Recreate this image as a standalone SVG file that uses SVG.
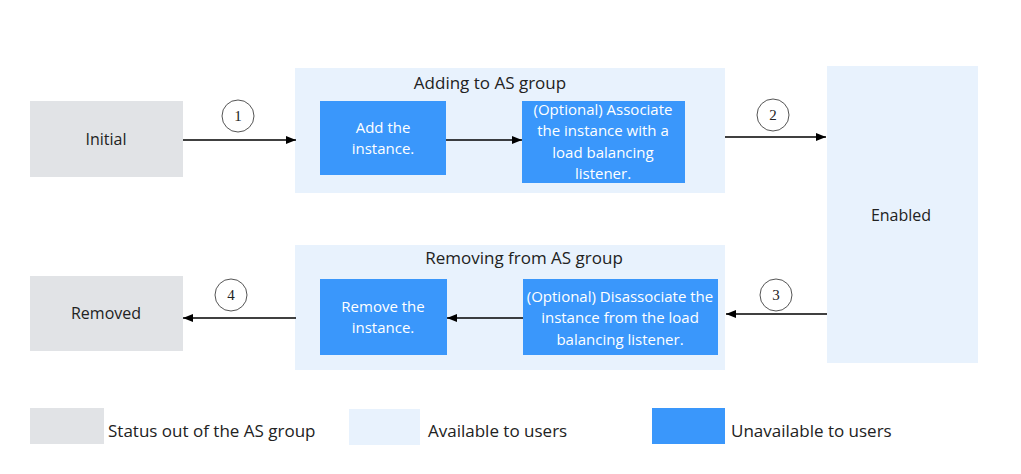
<svg xmlns="http://www.w3.org/2000/svg" width="1021" height="474" viewBox="0 0 1021 474">
<style>
text{font-family:"Open Sans","Noto Sans","Liberation Sans",sans-serif}
.status{fill:#e1e3e6}
.avail{fill:#e8f2fd}
.unav{fill:#3a97fb}
.dark{fill:#222;font-size:16px;text-anchor:middle}
.title{fill:#222;font-size:17px;text-anchor:middle}
.white{fill:#fff;font-size:15px;text-anchor:middle}
.leg{fill:#222;font-size:17px}
.num{fill:#222;font-size:15px;text-anchor:middle;font-family:"Liberation Serif",serif}
.circ{fill:#fff;stroke:#555;stroke-width:1}
.conn{stroke:#000;stroke-width:1.3;fill:none;marker-end:url(#ah)}
</style>
<defs>
<marker id="ah" viewBox="0 0 10 8" refX="10" refY="4" markerWidth="10" markerHeight="8" markerUnits="userSpaceOnUse" orient="auto">
<path d="M0,0 L10,4 L0,8 Z" fill="#000"/>
</marker>
</defs>
<rect width="1021" height="474" fill="#fff"/>
<g id="initial">
<rect class="status" x="30" y="101" width="153" height="76"/>
<text class="dark" x="106" y="145">Initial</text>
</g>
<g id="adding">
<rect class="avail" x="295" y="68" width="430" height="125"/>
<text class="title" x="490" y="89">Adding to AS group</text>
</g>
<g id="add-instance">
<rect class="unav" x="320" y="101" width="126" height="74"/>
<text class="white" x="383" y="133">Add the</text>
<text class="white" x="383" y="154">instance.</text>
</g>
<g id="associate">
<rect class="unav" x="522" y="101" width="163" height="82"/>
<text class="white" x="603" y="115">(Optional) Associate</text>
<text class="white" x="603" y="136">the instance with a</text>
<text class="white" x="603" y="158">load balancing</text>
<text class="white" x="603" y="179">listener.</text>
</g>
<g id="enabled">
<rect class="avail" x="827" y="66" width="151" height="297"/>
<text class="dark" x="901" y="221">Enabled</text>
</g>
<g id="removing">
<rect class="avail" x="295" y="245" width="430" height="125"/>
<text class="title" x="524" y="264">Removing from AS group</text>
</g>
<g id="disassociate">
<rect class="unav" x="523" y="279" width="195" height="76"/>
<text class="white" x="620" y="302">(Optional) Disassociate the</text>
<text class="white" x="620" y="323">instance from the load</text>
<text class="white" x="620" y="345">balancing listener.</text>
</g>
<g id="remove-instance">
<rect class="unav" x="320" y="279" width="127" height="76"/>
<text class="white" x="383" y="312">Remove the</text>
<text class="white" x="383" y="333">instance.</text>
</g>
<g id="removed">
<rect class="status" x="30" y="276" width="153" height="75"/>
<text class="dark" x="106" y="319">Removed</text>
</g>
<g id="connectors">
<line class="conn" x1="183" y1="140" x2="296" y2="140"/>
<line class="conn" x1="446" y1="140" x2="522" y2="140"/>
<line class="conn" x1="725" y1="137" x2="826" y2="137"/>
<line class="conn" x1="827" y1="314" x2="726" y2="314"/>
<line class="conn" x1="523" y1="318" x2="447" y2="318"/>
<line class="conn" x1="296" y1="318" x2="183" y2="318"/>
<circle class="circ" cx="238" cy="116" r="16"/>
<text class="num" x="238" y="121">1</text>
<circle class="circ" cx="773" cy="115" r="16"/>
<text class="num" x="773" y="120">2</text>
<circle class="circ" cx="776" cy="295" r="16"/>
<text class="num" x="776" y="300">3</text>
<circle class="circ" cx="231" cy="295" r="16"/>
<text class="num" x="231" y="300">4</text>
</g>
<g id="legend">
<rect class="status" x="30" y="408" width="74" height="36"/>
<text class="leg" x="108" y="437">Status out of the AS group</text>
<rect class="avail" x="349" y="409" width="71" height="36"/>
<text class="leg" x="428" y="437">Available to users</text>
<rect class="unav" x="652" y="408" width="73" height="36"/>
<text class="leg" x="731" y="437">Unavailable to users</text>
</g>
</svg>
